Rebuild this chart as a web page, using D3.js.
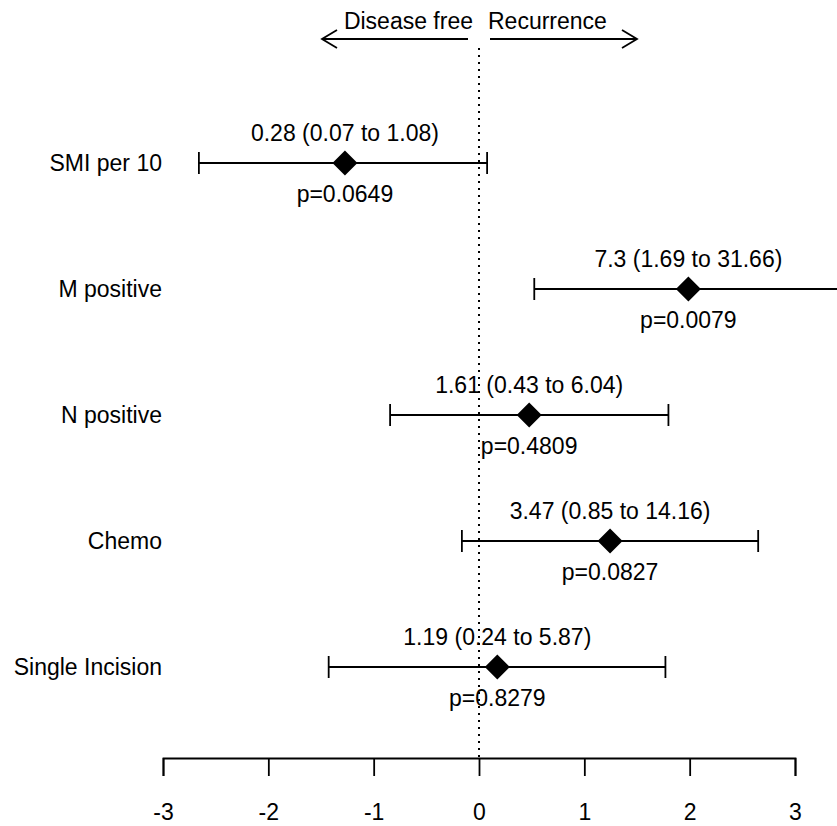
<!DOCTYPE html>
<html>
<head>
<meta charset="utf-8">
<script src="https://cdn.jsdelivr.net/npm/d3@7"></script>
<style>
  body { margin: 0; background: #fff; }
  svg text { font-family: "Liberation Sans", Arial, sans-serif; fill: #000; }
</style>
</head>
<body>
<div id="chart"></div>
<script>
// hazard ratios with 95% CI, plotted on log scale
const labels = ["SMI per 10", "M positive", "N positive", "Chemo", "Single Incision"]
const hr = [0.28, 7.3, 1.61, 3.47, 1.19]
const lower = [0.07, 1.69, 0.43, 0.85, 0.24]
const upper = [1.08, 31.66, 6.04, 14.16, 5.87]
const pvals = ["0.0649", "0.0079", "0.4809", "0.0827", "0.8279"]
const xTicks = [-3, -2, -1, 0, 1, 2, 3]

const width = 837, height = 826
const FONT = "23px"

const svg = d3.select("#chart").append("svg").attr("width", width).attr("height", height)

let x = d3.scaleLinear().domain([-3, 3]).range([163, 795])
let y = d3.scalePoint().domain(labels).range([163, 667])

const rows = labels.map((l, i) => ({
    label: l, est: Math.log(hr[i]), lo: Math.log(lower[i]), hi: Math.log(upper[i]),
    text: hr[i] + " (" + lower[i] + " to " + upper[i] + ")", p: "p=" + pvals[i]
}))

// reference line at 0
svg.append("line")
    .attr("x1", x(0)).attr("x2", x(0))
    .attr("y1", 48).attr("y2", 758)
    .attr("stroke", "#000").attr("stroke-width", 2)
    .attr("stroke-dasharray", "2,5")

// direction arrows on top
const arrowY = 39
svg.append("line").attr("x1", x(0) - 11).attr("x2", x(0) - 157).attr("y1", arrowY).attr("y2", arrowY)
    .attr("stroke", "#000").attr("stroke-width", 1.8)
svg.append("path").attr("d", `M${x(0) - 142},${arrowY - 9}L${x(0) - 157},${arrowY}L${x(0) - 142},${arrowY + 9}`)
    .attr("fill", "none").attr("stroke", "#000").attr("stroke-width", 1.8)
svg.append("line").attr("x1", x(0) + 11).attr("x2", x(0) + 158).attr("y1", arrowY).attr("y2", arrowY)
    .attr("stroke", "#000").attr("stroke-width", 1.8)
svg.append("path").attr("d", `M${x(0) + 143},${arrowY - 9}L${x(0) + 158},${arrowY}L${x(0) + 143},${arrowY + 9}`)
    .attr("fill", "none").attr("stroke", "#000").attr("stroke-width", 1.8)
svg.append("text").text("Disease free").attr("x", x(0) - 6).attr("y", 29)
    .attr("text-anchor", "end").attr("font-size", FONT)
svg.append("text").text("Recurrence").attr("x", x(0) + 9).attr("y", 29)
    .attr("text-anchor", "start").attr("font-size", FONT)

let g = svg.append("g").selectAll("g").data(rows).join("g")

// CI whiskers
g.append("line")
    .attr("x1", d => x(d.lo)).attr("x2", d => x(d.hi))
    .attr("y1", d => y(d.label)).attr("y2", d => y(d.label))
    .attr("stroke", "#000").attr("stroke-width", 1.8)
g.append("line")
    .attr("x1", d => x(d.lo)).attr("x2", d => x(d.lo))
    .attr("y1", d => y(d.label) - 11).attr("y2", d => y(d.label) + 11)
    .attr("stroke", "#000").attr("stroke-width", 1.8)
g.append("line")
    .attr("x1", d => x(d.hi)).attr("x2", d => x(d.hi))
    .attr("y1", d => y(d.label) - 11).attr("y2", d => y(d.label) + 11)
    .attr("stroke", "#000").attr("stroke-width", 1.8)

// diamonds
g.append("path")
    .attr("d", d => {
        let cx = x(d.est), cy = y(d.label), r = 12.5
        return `M${cx},${cy - r}L${cx + r},${cy}L${cx},${cy + r}L${cx - r},${cy}Z`
    })
    .attr("fill", "#000")

// estimate text above, p value below
g.append("text").text(d => d.text)
    .attr("x", d => x(d.est)).attr("y", d => y(d.label) - 22)
    .attr("text-anchor", "middle").attr("font-size", FONT)
g.append("text").text(d => d.p)
    .attr("x", d => x(d.est)).attr("y", d => y(d.label) + 39)
    .attr("text-anchor", "middle").attr("font-size", FONT)

// row labels
g.append("text").text(d => d.label)
    .attr("x", 162).attr("y", d => y(d.label) + 8)
    .attr("text-anchor", "end").attr("font-size", FONT)

// bottom axis
let axis = svg.append("g").attr("transform", "translate(0,758)")
    .call(d3.axisBottom(x).tickValues(xTicks).tickSize(18).tickSizeOuter(18).tickPadding(28).tickFormat(d => String(d)))
axis.selectAll("path, line").attr("stroke", "#000").attr("stroke-width", 1.8)
axis.selectAll("text").attr("font-size", FONT).attr("font-family", null)
</script>
</body>
</html>
